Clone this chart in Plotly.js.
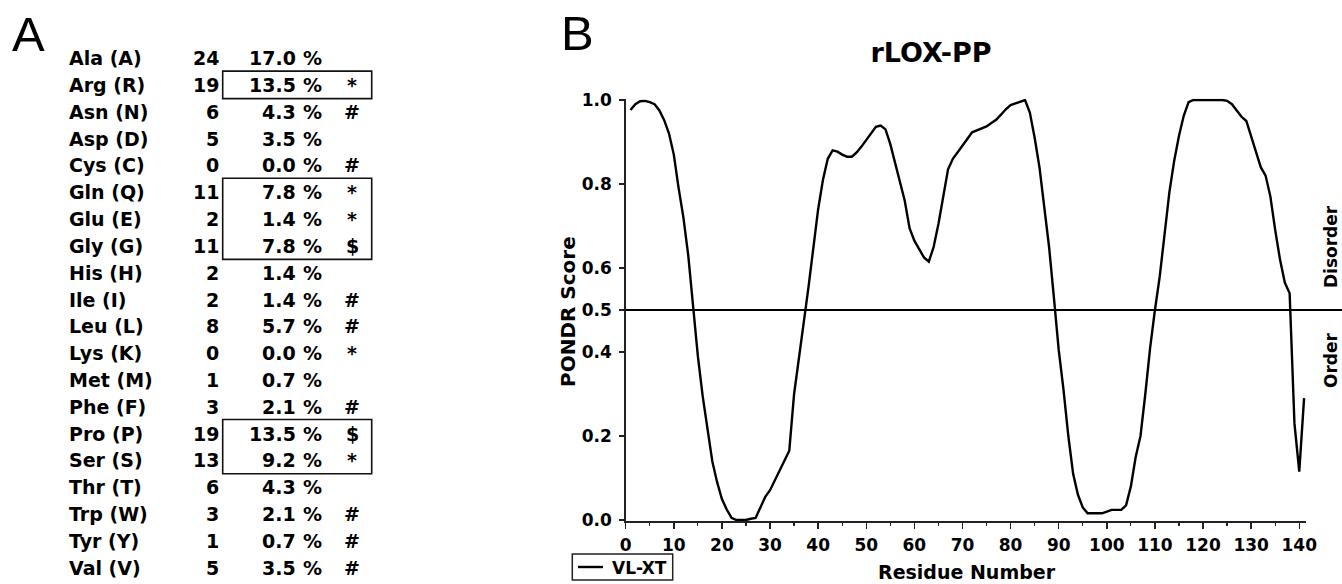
<!DOCTYPE html>
<html>
<head>
<meta charset="utf-8">
<script src="https://cdn.plot.ly/plotly-3.0.1.min.js"></script>
<style>
  html, body { margin: 0; padding: 0; background: #ffffff; }
  #chart { width: 1342px; height: 584px; }
</style>
</head>
<body>
<div id="chart"></div>
<script>
// ---------------- Panel A data ----------------
const aminoAcids = ["Ala (A)", "Arg (R)", "Asn (N)", "Asp (D)", "Cys (C)", "Gln (Q)", "Glu (E)",
  "Gly (G)", "His (H)", "Ile (I)", "Leu (L)", "Lys (K)", "Met (M)", "Phe (F)", "Pro (P)",
  "Ser (S)", "Thr (T)", "Trp (W)", "Tyr (Y)", "Val (V)"];
const counts = [24, 19, 6, 5, 0, 11, 2, 11, 2, 2, 8, 0, 1, 3, 19, 13, 6, 3, 1, 5];
const percents = ["17.0", "13.5", "4.3", "3.5", "0.0", "7.8", "1.4", "7.8", "1.4", "1.4",
  "5.7", "0.0", "0.7", "2.1", "13.5", "9.2", "4.3", "2.1", "0.7", "3.5"];
const marks = ["", "*", "#", "", "#", "*", "*", "$", "", "#", "#", "*", "", "#", "$", "*", "", "#", "#", "#"];
const boxedGroups = [[1, 1], [5, 7], [14, 15]];

// ---------------- Panel B data ----------------
const residues = Array.from({length: 141}, (_, i) => i + 1);
const pondrScore = [
  0.976, 0.990, 0.997, 0.998, 0.995, 0.990, 0.975, 0.952, 0.920, 0.870,
  0.790, 0.720, 0.630, 0.500, 0.390, 0.295, 0.215, 0.140, 0.090, 0.050,
  0.025, 0.005, 0.000, 0.000, 0.000, 0.003, 0.005, 0.030, 0.055, 0.071,
  0.095, 0.115, 0.140, 0.165, 0.300, 0.390, 0.470, 0.555, 0.650, 0.740,
  0.810, 0.860, 0.880, 0.877, 0.870, 0.865, 0.865, 0.875, 0.889, 0.905,
  0.922, 0.936, 0.939, 0.930, 0.895, 0.850, 0.810, 0.760, 0.695, 0.665,
  0.645, 0.625, 0.615, 0.650, 0.705, 0.770, 0.835, 0.860, 0.875, 0.890,
  0.907, 0.923, 0.928, 0.933, 0.937, 0.945, 0.953, 0.965, 0.978, 0.988,
  0.992, 0.997, 1.000, 0.970, 0.910, 0.840, 0.745, 0.650, 0.530, 0.405,
  0.310, 0.200, 0.110, 0.060, 0.030, 0.016, 0.016, 0.016, 0.016, 0.020,
  0.024, 0.024, 0.024, 0.035, 0.080, 0.150, 0.200, 0.300, 0.410, 0.500,
  0.580, 0.680, 0.780, 0.855, 0.915, 0.963, 0.995, 1.000, 1.000, 1.000,
  1.000, 1.000, 1.000, 1.000, 0.998, 0.990, 0.975, 0.960, 0.950, 0.915,
  0.880, 0.840, 0.820, 0.770, 0.690, 0.620, 0.565, 0.540, 0.230, 0.115,
  0.290
];
const yTickVals = [0.0, 0.2, 0.4, 0.5, 0.6, 0.8, 1.0];
const xTickVals = [0, 10, 20, 30, 40, 50, 60, 70, 80, 90, 100, 110, 120, 130, 140];
const threshold = 0.5;
const seriesName = "VL-XT";

// ---------------- layout helpers ----------------
const W = 1342, H = 584;
const px = x => x / W;
const py = y => 1 - y / H;
const BOLD = {family: "DejaVu Sans", weight: "bold", color: "#000"};
const bold = size => Object.assign({size}, BOLD);

// plot-area geometry (pixels)
const plotLeft = 625.7, plotRight = 1306;
const xRange = [0, 141.4];
const yRange = [-0.003, 1.003];
const yTopPx = 98.74, yBotPx = 521.26;
const yDomain = [py(yBotPx), py(yTopPx)];
const yToPaper = v => yDomain[0] + (v - yRange[0]) / (yRange[1] - yRange[0]) * (yDomain[1] - yDomain[0]);

const annotations = [];
const shapes = [];
const note = (text, x, y, xanchor, font, extra) => annotations.push(Object.assign({
  text, x: px(x), y: py(y), xref: "paper", yref: "paper", xanchor, yanchor: "middle",
  showarrow: false, font, borderpad: 0
}, extra || {}));

// Table rows
const row0 = 58.3, rowStep = 26.8;
aminoAcids.forEach((name, i) => {
  const y = row0 + rowStep * i;
  const f = bold(19);
  note(name, 68, y, "left", f);
  note(String(counts[i]), 219.5, y, "right", f);
  note(percents[i], 297, y, "right", f);
  note("%", 302, y, "left", f);
  if (marks[i]) note(marks[i], 352, y, "center", f);
});
boxedGroups.forEach(([a, b]) => {
  shapes.push({type: "rect", xref: "paper", yref: "paper",
    x0: px(222.7), x1: px(371.7),
    y0: py(row0 + rowStep * a - 14), y1: py(row0 + rowStep * b + 13.5),
    line: {color: "#111", width: 1.6}, fillcolor: "rgba(0,0,0,0)"});
});

// Panel letters
note("A", 28, 34, "center", {family: "Liberation Sans", size: 49, color: "#000"});
note("B", 577, 33, "center", {family: "Liberation Sans", size: 49, color: "#000"});

// Axis titles & side labels
note("PONDR Score", 568, 312, "center", bold(20), {textangle: -90});
note("Residue Number", 967, 572, "center", bold(19));
note("Disorder", 1331, 247, "center", bold(17), {textangle: -90});
note("Order", 1331, 360, "center", bold(17), {textangle: -90});

// Legend box drawn by hand (matches the original small boxed key)
shapes.push({type: "rect", xref: "paper", yref: "paper", x0: px(572.3), x1: px(672.7), y0: py(580), y1: py(554),
  line: {color: "#222", width: 1.5}, fillcolor: "#fff"});
shapes.push({type: "line", xref: "paper", yref: "paper", x0: px(578), x1: px(603), y0: py(567), y1: py(567),
  line: {color: "#000", width: 2.4}});
note(seriesName, 611, 567.5, "left", bold(17));

// Threshold line (extends past the axis to the right edge)
shapes.push({type: "line", xref: "paper", yref: "paper", x0: px(plotLeft), x1: 1,
  y0: yToPaper(threshold), y1: yToPaper(threshold), line: {color: "#000", width: 2}});

const trace = {
  x: residues, y: pondrScore, type: "scatter", mode: "lines", name: seriesName,
  line: {color: "#000", width: 2.4, shape: "linear"}, hoverinfo: "x+y"
};

const layout = {
  width: W, height: H,
  margin: {l: 0, r: 0, t: 0, b: 0, pad: 0},
  paper_bgcolor: "#fff", plot_bgcolor: "#fff",
  title: {text: "rLOX-PP", x: px(931), xanchor: "center", y: py(53), yanchor: "middle", font: bold(27)},
  showlegend: false,
  xaxis: {
    domain: [px(plotLeft), px(plotRight)], range: xRange, fixedrange: true,
    showgrid: false, zeroline: false, showline: true, linecolor: "#222", linewidth: 1.5,
    tickmode: "array", tickvals: xTickVals, ticks: "outside", ticklen: 6, tickwidth: 1.5, tickcolor: "#222",
    tickfont: bold(17), ticklabelstandoff: 2,
    minor: {tickmode: "linear", tick0: 0, dtick: 5, ticks: "outside", ticklen: 3, tickwidth: 1.2, tickcolor: "#222", showgrid: false}
  },
  yaxis: {
    domain: yDomain, range: yRange, fixedrange: true,
    showgrid: false, zeroline: false, showline: true, linecolor: "#222", linewidth: 1.5,
    tickmode: "array", tickvals: yTickVals, tickformat: ".1f", ticks: "outside", ticklen: 5, tickwidth: 1.5, tickcolor: "#222",
    tickfont: bold(17), ticklabelstandoff: 4
  },
  annotations, shapes
};

Plotly.newPlot("chart", [trace], layout, {displayModeBar: false, staticPlot: true});
</script>
</body>
</html>
